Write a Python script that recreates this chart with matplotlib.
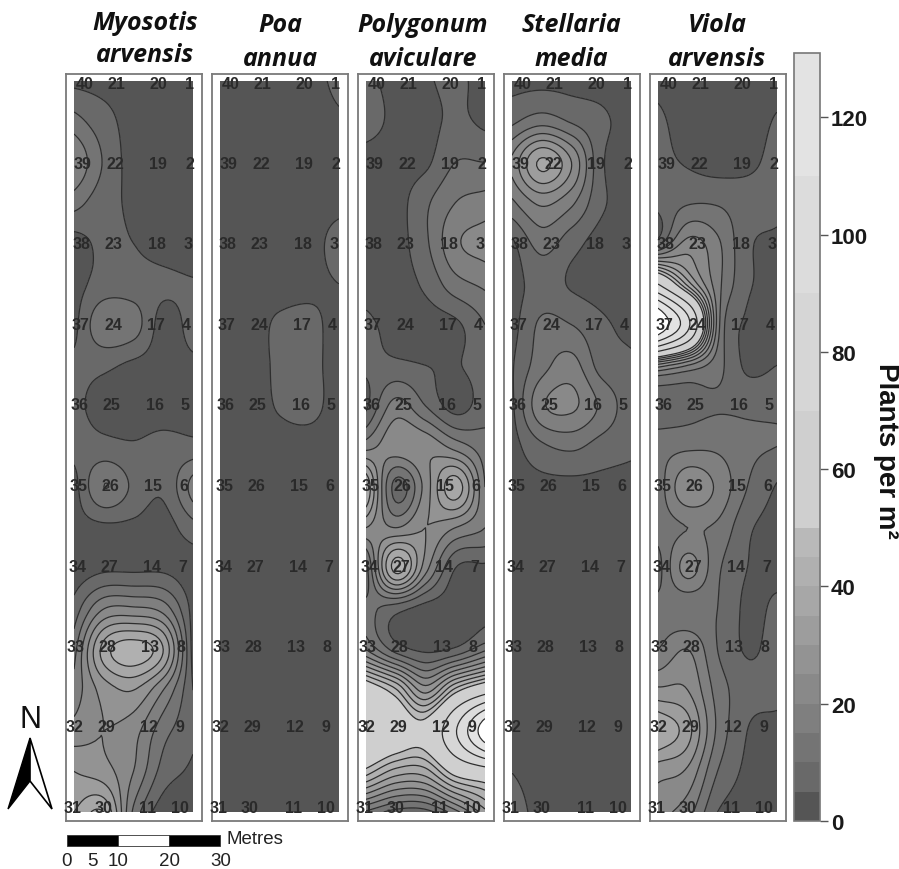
import numpy as np
import matplotlib
matplotlib.use("Agg")
import matplotlib.pyplot as plt
from matplotlib.cm import ScalarMappable
from matplotlib.colors import BoundaryNorm, ListedColormap
from matplotlib.patches import Polygon, Rectangle

# Plants per m2: 19 rows north to south, 5 columns west to east
myosotis = [
    [3.5, 3, 3, 3, 3],
    [12, 7, 3, 2, 2],
    [20, 9.5, 3, 2, 2],
    [12, 7, 4, 2, 2],
    [3, 6, 5, 3, 2],
    [3, 7, 7, 6, 5.5],
    [3.5, 14, 12.5, 3, 7],
    [6, 6, 4, 3, 4],
    [6, 3.5, 2.5, 2.5, 2.5],
    [6.5, 6.5, 5.5, 6.5, 6.5],
    [3, 15, 9, 6, 17],
    [3, 4, 4, 3, 8],
    [2, 4, 4, 4, 2],
    [7, 20, 21, 18, 3],
    [13, 37, 43, 35, 3],
    [17, 27, 30, 20, 5],
    [22, 25, 22, 12, 6],
    [30, 27, 20, 8, 4],
    [35, 40, 14, 2, 2],
]
poa = [
    [2.5, 2.5, 2.5, 2.5, 7],
    [2.5, 2.5, 2.5, 2.5, 4],
    [2.5, 2.5, 2.5, 2.5, 2.5],
    [2.5, 2.5, 2.5, 2.5, 3],
    [2.5, 2.5, 2.5, 2.5, 8],
    [2.5, 2.5, 2.5, 3.5, 5],
    [2.5, 2.5, 6, 6.5, 2.5],
    [2.5, 2.5, 6, 6.5, 2.5],
    [2.5, 2.5, 5.5, 6.5, 2.5],
    [2.5, 2.5, 3, 3, 2.5],
    [2.5, 2.5, 2.5, 2.5, 2.5],
    [2.5, 2.5, 2.5, 2.5, 2.5],
    [2.5, 2.5, 2.5, 2.5, 2.5],
    [2.5, 2.5, 2.5, 2.5, 2.5],
    [2.5, 2.5, 2.5, 2.5, 2.5],
    [2.5, 2.5, 2.5, 2.5, 2.5],
    [2.5, 2.5, 2.5, 2.5, 2.5],
    [2.5, 2.5, 2.5, 2.5, 2.5],
    [2.5, 2.5, 2.5, 2.5, 2.5],
]
polygonum = [
    [6, 4, 4.5, 6, 3],
    [7, 4, 3.5, 6, 4],
    [3, 3, 4, 10, 10],
    [3, 3, 9, 15, 17],
    [3, 3, 9, 19, 22],
    [3, 3, 6, 13, 16],
    [6, 3.5, 3, 4, 10],
    [6, 6, 5, 4.5, 8],
    [4, 17, 10, 3, 8],
    [18, 23, 24, 18, 12],
    [40, 8, 22, 38, 15],
    [25, 20, 25, 20, 15],
    [8, 42, 22, 5, 4],
    [12, 7, 3, 3, 3],
    [20, 8, 4, 6, 14],
    [58, 46, 28, 47, 62],
    [70, 60, 55, 88, 145],
    [48, 38, 38, 54, 62],
    [14, 8, 8, 18, 33],
]
stellaria = [
    [3, 3, 3, 3, 2.5],
    [9, 13, 9.5, 6, 3],
    [21, 36, 25, 6, 3],
    [14, 21, 16, 6, 3],
    [4, 12, 7, 3, 3],
    [3, 7, 4.5, 3, 3],
    [3, 11, 10, 6, 3.5],
    [4.5, 13, 17, 8, 6],
    [4, 19, 21, 14, 6.5],
    [3, 9, 11, 8, 6],
    [3, 3.5, 3.5, 3.5, 3],
    [3, 3, 3, 3, 3],
    [3, 3, 3, 3, 3],
    [3, 3, 3, 3, 3],
    [3, 3, 3, 3, 3],
    [3, 3, 3, 3, 3],
    [3, 3, 3, 3, 3],
    [4.9, 3, 3, 3, 3],
    [8, 3, 3, 3, 3],
]
viola = [
    [3.5, 3, 3, 3, 3],
    [6, 3, 3, 3, 5.5],
    [6.5, 4.5, 3, 4, 6.5],
    [6, 9.5, 9.5, 7, 6.5],
    [8, 22, 16, 6, 4],
    [70, 38, 17, 6, 3.5],
    [150, 95, 18, 4, 3],
    [28, 20, 12, 4, 5],
    [8, 9, 9.5, 9, 9],
    [13, 14, 14, 11, 10],
    [12, 24, 19, 10, 4.5],
    [12, 15, 14, 6, 3],
    [8, 22, 11, 5, 3.5],
    [12, 11, 10, 4, 6],
    [15, 20, 10, 4.5, 7],
    [26, 25, 13, 7, 7],
    [40, 32, 14, 5, 3],
    [27, 24, 10, 4, 3],
    [22, 17, 5, 3, 3],
]

species = [
    (["Myosotis", "arvensis"], myosotis, 145),
    (["Poa", "annua"], poa, 280),
    (["Polygonum", "aviculare"], polygonum, 423),
    (["Stellaria", "media"], stellaria, 571),
    (["Viola", "arvensis"], viola, 717),
]

# point numbers by column, north to south
plot_west = [40, 39, 38, 37, 36, 35, 34, 33, 32, 31]
plot_mid_west = [21, 22, 23, 24, 25, 26, 27, 28, 29, 30]
plot_mid_east = [20, 19, 18, 17, 16, 15, 14, 13, 12, 11]
plot_east = [1, 2, 3, 4, 5, 6, 7, 8, 9, 10]

levels = [0, 5, 10, 15, 20, 25, 30, 35, 40, 45, 50, 70, 90, 110, 131]
greys = ["#555555", "#696969", "#747474", "#7f7f7f", "#898989", "#939393", "#9d9d9d",
         "#a7a7a7", "#b0b0b0", "#b9b9b9", "#cfcfcf", "#d6d6d6", "#dcdcdc", "#e3e3e3"]
cbar_ticks = [0, 20, 40, 60, 80, 100, 120]
scale_ticks = [0, 5, 10, 20, 30]

W, H = 899, 870
FONT = "Liberation Sans"

# layout in pixels
frame_lefts = [66, 212, 358, 504, 650]
FRAME_W = 136
FRAME_TOP, FRAME_BOTTOM = 75, 822
INNER_PAD = 8
INNER_W = 119
INNER_TOP, INNER_BOTTOM = 82, 813

# the sampling grid is a little skewed, offsets from the inner panel corner
label_y = [3, 83, 163, 244, 324, 405, 486, 566, 646, 727]
label_x = [
    [11, 9, 8, 7, 6, 5, 4, 2, 1, -1],
    [42, 41, 39, 39, 37, 36, 35, 33, 32, 30],
    [84, 84, 83, 82, 81, 79, 78, 76, 75, 74],
    [116, 116, 114, 112, 111, 110, 109, 107, 106, 106],
]
label_nums = [plot_west, plot_mid_west, plot_mid_east, plot_east]

cmap = ListedColormap(greys).with_extremes(over="white", under=greys[0])
norm = BoundaryNorm(levels, len(greys))


def smooth_axis0(z, factor=12):
    # Catmull-Rom through the read values, so the contours come out round
    n = z.shape[0]
    pad = np.vstack([2 * z[0] - z[1], z, 2 * z[-1] - z[-2]])
    t = np.linspace(0, n - 1, (n - 1) * factor + 1)
    i = np.minimum(t.astype(int), n - 2)
    u = (t - i)[:, None]
    p0, p1, p2, p3 = pad[i], pad[i + 1], pad[i + 2], pad[i + 3]
    return 0.5 * (2 * p1 + (p2 - p0) * u + (2 * p0 - 5 * p1 + 4 * p2 - p3) * u ** 2
                  + (3 * p1 - p0 - 3 * p2 + p3) * u ** 3)


def px_axes(fig, left, top, right, bottom):
    return fig.add_axes([left / W, 1 - bottom / H, (right - left) / W, (bottom - top) / H])


def draw_panel(fig, left, names, values, title_x):
    frame = px_axes(fig, left, FRAME_TOP, left + FRAME_W, FRAME_BOTTOM)
    frame.set_xticks([])
    frame.set_yticks([])
    for s in frame.spines.values():
        s.set_color("#7a7a7a")
        s.set_linewidth(1.3)

    ax = px_axes(fig, left + INNER_PAD, INNER_TOP, left + INNER_PAD + INNER_W, INNER_BOTTOM)
    z = np.array(values, dtype=float)
    fine = smooth_axis0(smooth_axis0(z).T).T
    x = np.linspace(0, INNER_W, fine.shape[1])
    y = np.linspace(0, INNER_BOTTOM - INNER_TOP, fine.shape[0])
    ax.contourf(x, y, fine, levels=levels, cmap=cmap, norm=norm, extend="both")
    ax.contour(x, y, fine, levels=levels[1:], colors="#2e2e2e", linewidths=0.9)
    ax.set_xlim(0, INNER_W)
    ax.set_ylim(INNER_BOTTOM - INNER_TOP, 0)
    ax.axis("off")

    for col, xs in zip(label_nums, label_x):
        for num, lx, ly in zip(col, xs, label_y):
            ax.text(lx, ly, str(num), ha="center", va="center", fontsize=11.5, family=FONT,
                    weight="bold", color="#2a2a2a", clip_on=False, zorder=5)

    y_lines = [23, 56] if names[0] == "Myosotis" else [26, 60]
    for name, ty in zip(names, y_lines):
        fig.text(title_x / W, 1 - ty / H, name, ha="center", va="center", fontsize=18,
                 family="Open Sans", style="italic", weight="bold", color="#111111")


fig = plt.figure(figsize=(W / 100, H / 100), dpi=100, facecolor="white")

for left, (names, values, title_x) in zip(frame_lefts, species):
    draw_panel(fig, left, names, values, title_x)

# colour bar
cax = px_axes(fig, 794, 54, 820, 822)
cb = fig.colorbar(ScalarMappable(norm=norm, cmap=ListedColormap(greys)), cax=cax,
                  spacing="proportional", ticks=cbar_ticks, drawedges=False)
cb.ax.tick_params(length=6, width=1, color="#555555", pad=2)
cb.ax.minorticks_off()
cb.ax.set_yticklabels([str(t) for t in cbar_ticks], fontsize=16, family=FONT,
                      weight="bold", color="#1a1a1a")
cb.outline.set_edgecolor("#777777")
cb.outline.set_linewidth(1.2)
fig.text(886 / W, 1 - 451 / H, "Plants per m²", rotation=-90, ha="center", va="center",
         fontsize=20, family=FONT, weight="bold", color="#111111")

# north arrow and scale bar, in figure pixels
over = fig.add_axes([0, 0, 1, 1], facecolor="none")
over.set_xlim(0, W)
over.set_ylim(H, 0)
over.axis("off")
over.text(30, 720, "N", ha="center", va="center", fontsize=22, family=FONT, color="#111111")
over.add_patch(Polygon([(30, 739), (8, 810), (30, 782)], closed=True, fc="black", ec="black", lw=1))
over.add_patch(Polygon([(30, 739), (52, 810), (30, 782)], closed=True, fc="white", ec="black", lw=1.2))

bar_left, bar_m = 66.5, 5.13
for a, b, c in [(0, 10, "black"), (10, 20, "white"), (20, 30, "black")]:
    over.add_patch(Rectangle((bar_left + a * bar_m, 836), (b - a) * bar_m, 11, fc=c, ec="#333333", lw=0.6))
for t in scale_ticks:
    over.text(bar_left + t * bar_m, 862, str(t), ha="center", va="center", fontsize=13.5,
              family=FONT, color="#222222")
over.text(226, 840, "Metres", ha="left", va="center", fontsize=13.5, family=FONT, color="#222222")

fig.savefig("out.png", dpi=100)
